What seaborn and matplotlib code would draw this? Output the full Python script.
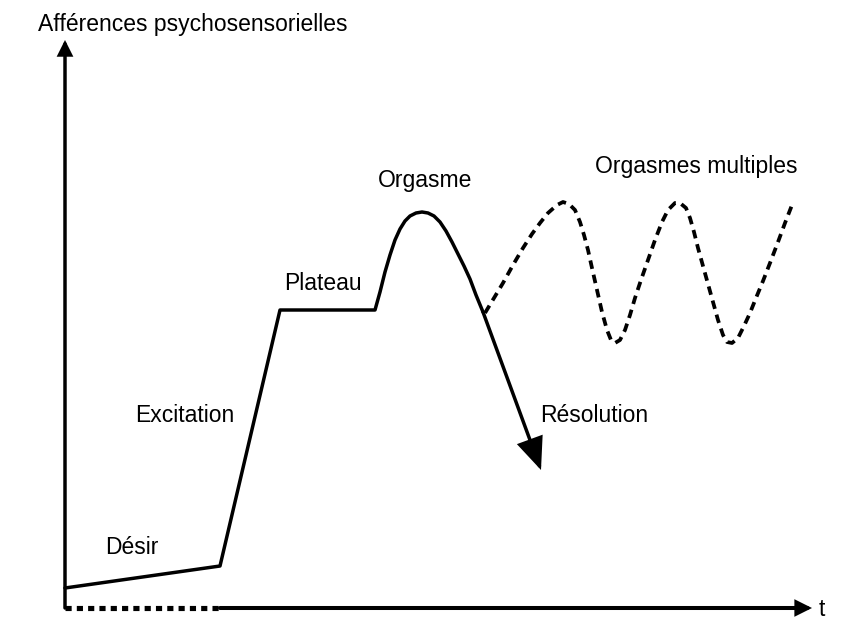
import matplotlib
matplotlib.use("Agg")
import matplotlib.pyplot as plt
import seaborn as sns
import pandas as pd

# main response curve (time, level)
curve_t = [0, 155, 215, 310, 315, 320, 325, 330, 335, 340, 345, 351, 357, 363,
           369, 375, 381, 387, 393, 399, 405, 411, 418]
curve_level = [20, 42, 298, 298, 316, 336, 353, 368, 379, 387, 392, 395, 396, 395,
               392, 386, 377, 366, 354, 342, 329, 313, 296]

# resolution arrow: start and tip
resol_t = [418, 476]
resol_level = [296, 138]

# multiple orgasms branch (dashed)
multi_t = [420, 429, 438, 448, 458, 467, 475, 483, 492, 498, 504, 510, 515, 519,
           523, 527, 532, 537, 542, 546, 550, 555, 560, 565, 570, 576, 583, 590,
           597, 603, 610, 615, 621, 625, 629, 633, 638, 643, 648, 653, 658, 662,
           667, 673, 679, 685, 691, 698, 705, 713, 720, 727]
multi_level = [295, 310, 325, 343, 360, 374, 385, 395, 403, 406, 404, 398, 386, 373,
               358, 340, 318, 296, 278, 268, 265, 268, 278, 293, 310, 328, 348, 368,
               386, 398, 405, 405, 400, 390, 376, 360, 342, 324, 306, 288, 273, 266,
               265, 270, 282, 295, 310, 327, 345, 366, 385, 403]

# axes extents
y_axis_top = 568
x_dotted_end = 155
x_axis_end = 747

labels = ["Afférences psychosensorielles", "Orgasmes multiples", "Orgasme", "Plateau",
          "Excitation", "Désir", "Résolution", "t"]
label_t = [-27, 631, 360, 258, 120, 67, 475, 757]
label_level = [583, 442, 427, 325, 192, 61, 192, -2]
label_ha = ["left", "center", "center", "center", "center", "center", "left", "center"]

sns.set_style("white")
plt.rcParams['font.family'] = ['Liberation Sans', 'DejaVu Sans']

fig = plt.figure(figsize=(8.51, 6.23), dpi=100)
ax = fig.add_axes([0, 0, 1, 1])
ax.set_xlim(-65, 786)
ax.set_ylim(-15, 608)
ax.axis("off")

lw = 2.5
df_curve = pd.DataFrame({"t": curve_t, "level": curve_level})
df_multi = pd.DataFrame({"t": multi_t, "level": multi_level})
sns.lineplot(data=df_curve, x="t", y="level", sort=False, color="black", lw=lw, ax=ax)
sns.lineplot(data=df_multi, x="t", y="level", sort=False, color="black", lw=lw + 0.2,
             linestyle=(0, (2.3, 1.6)), ax=ax)

# resolution: straight segment plus large filled head
ax.annotate("", xy=(resol_t[1], resol_level[1]), xytext=(resol_t[0], resol_level[0]),
            arrowprops=dict(arrowstyle="-|>,head_length=0.95,head_width=0.4",
                            color="black", lw=lw, mutation_scale=20,
                            shrinkA=0, shrinkB=0, joinstyle="miter"))
# axes
ax.annotate("", xy=(0, y_axis_top), xytext=(0, 0),
            arrowprops=dict(arrowstyle="-|>,head_length=0.5,head_width=0.25",
                            color="black", lw=lw, mutation_scale=16,
                            shrinkA=0, shrinkB=0, joinstyle="miter"))
ax.annotate("", xy=(x_axis_end, 0), xytext=(x_dotted_end, 0),
            arrowprops=dict(arrowstyle="-|>,head_length=0.5,head_width=0.25",
                            color="black", lw=lw + 0.4, mutation_scale=16,
                            shrinkA=0, shrinkB=0, joinstyle="miter"))
ax.plot([0, x_dotted_end], [0, 0], color="black", lw=lw + 1.2,
        linestyle=(0, (1.2, 1.0)), solid_capstyle="butt")

for txt, x, y, ha in zip(labels, label_t, label_level, label_ha):
    ax.text(x, y, txt, ha=ha, va="center", fontsize=16.5, color="black")

fig.savefig("out.png", dpi=100, facecolor="white")
